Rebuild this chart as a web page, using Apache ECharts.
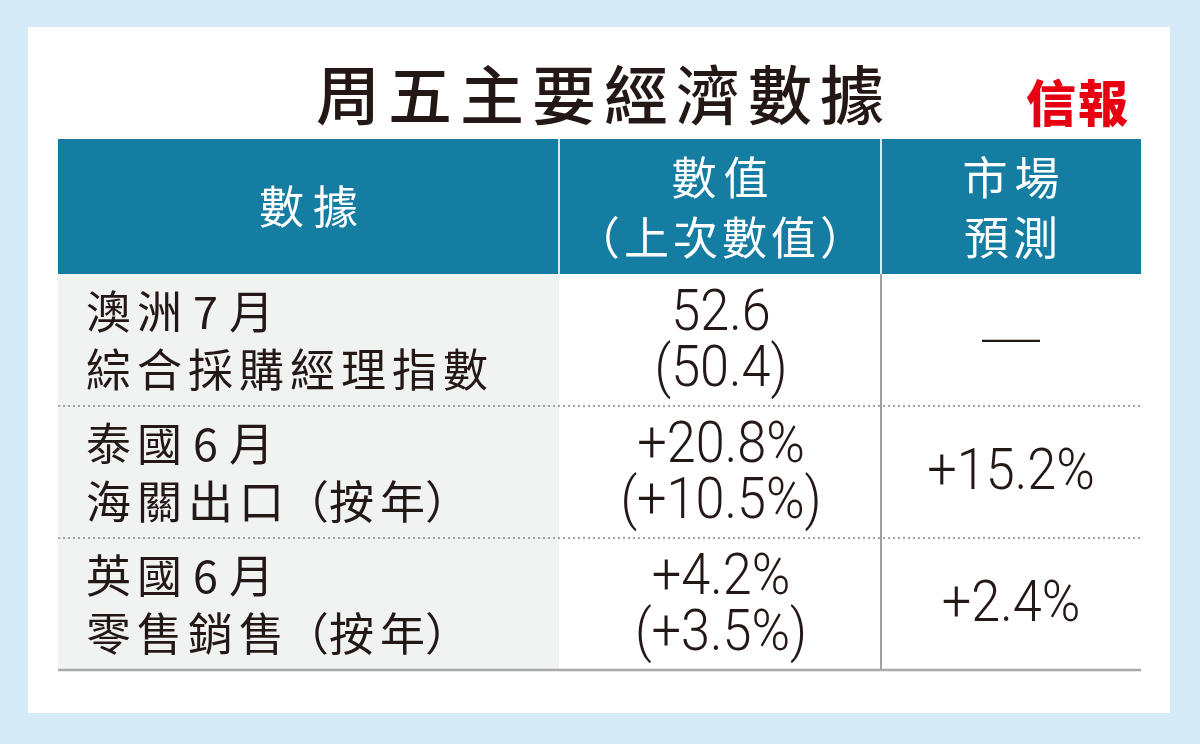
<!DOCTYPE html>
<html><head><meta charset="utf-8">
<script src="https://cdn.jsdelivr.net/npm/echarts@6/dist/echarts.min.js"></script>
<style>html,body{margin:0;padding:0;background:#d5ebf8}#c{width:1200px;height:744px}</style>
</head><body><div id="c"></div>
<script>
// ---- data ----
const title = '周五主要經濟數據';
const brand = '信報';
const headers = [['數據'], ['數值', '（上次數值）'], ['市場', '預測']];
const rowLabels = [['澳洲7月', '綜合採購經理指數'], ['泰國6月', '海關出口（按年）'], ['英國6月', '零售銷售（按年）']];
const latest = ['52.6', '+20.8%', '+4.2%'];
const previous = ['50.4', '+10.5%', '+3.5%'];
const forecast = ['—', '+15.2%', '+2.4%'];

// ---- layout ----
const CJK = '"Noto Sans CJK TC", "Noto Sans CJK SC", sans-serif';
const NUM = 'Roboto, "Noto Sans", "Noto Sans CJK TC", sans-serif';
const INK = '#231815';
const colX = [58, 559, 881, 1141];
const headTop = 139, headBot = 274;
const rowY = [274, 406, 538, 670];

const ctx = document.createElement('canvas').getContext('2d');
const isParen = c => c === '（' || c === '）';
const isHalf = c => c.charCodeAt(0) < 0x2000;
function tracked(str, x, y, o) {
  const font = `${o.weight || 400} ${o.size}px ${o.family}`;
  ctx.font = font;
  const chars = Array.from(str);
  const ws = chars.map(c => ctx.measureText(c).width);
  const t = o.track || 0;
  const gaps = chars.slice(1).map((c, i) => {
    const p = chars[i];
    if (o.smart) {
      if (isParen(c) || isParen(p)) return 0;
      if (isHalf(c) || isHalf(p)) return t + 5;
    }
    return t;
  });
  const total = ws.reduce((a, b) => a + b, 0) + gaps.reduce((a, b) => a + b, 0);
  let px = o.align === 'center' ? x - total / 2 : x;
  const out = [];
  chars.forEach((c, i) => {
    out.push({ type: 'text', x: px, y: y, silent: true,
      style: { text: c, font: font, fill: o.fill || INK, align: 'left', verticalAlign: 'middle' } });
    px += ws[i] + (i < gaps.length ? gaps[i] : 0);
  });
  return out;
}
function numText(str, x, y, size) {
  const dash = str === '—';
  return { type: 'text', x: x, y: dash ? y - 7 : y, scaleX: dash ? 1.4 : 0.9, silent: true,
    style: { text: str, font: dash ? `300 52px ${CJK}` : `300 ${size}px ${NUM}`, fill: INK, align: 'center', verticalAlign: 'middle' } };
}

const g = [];
// panel
g.push({ type: 'rect', shape: { x: 28, y: 27, width: 1142, height: 686 }, style: { fill: '#ffffff' } });
// title
g.push(...tracked(title, 600, 95, { size: 64, weight: 500, family: CJK, track: 8, align: 'center' }));
// brand
g.push(...tracked(brand, 1077, 103, { size: 50, weight: 900, family: CJK, track: 2, align: 'center', fill: '#e60012' }));
// header
g.push({ type: 'rect', shape: { x: colX[0], y: headTop, width: colX[3] - colX[0], height: headBot - headTop }, style: { fill: '#157ca2' } });
[colX[1], colX[2]].forEach(x => g.push({ type: 'line', shape: { x1: x, y1: headTop, x2: x, y2: headBot }, style: { stroke: '#d6e8f0', lineWidth: 2 } }));
headers.forEach((lines, c) => {
  const cx = (colX[c] + colX[c + 1]) / 2;
  if (lines.length === 1) {
    g.push(...tracked(lines[0], cx, 207, { size: 45, family: CJK, track: 9, align: 'center', fill: '#ffffff' }));
  } else {
    g.push(...tracked(lines[0], cx, 178, { size: 45, family: CJK, track: 7, align: 'center', fill: '#ffffff' }));
    g.push(...tracked(lines[1], cx, 238, { size: 45, family: CJK, track: 4, align: 'center', fill: '#ffffff' }));
  }
});
// body first column background
g.push({ type: 'rect', shape: { x: colX[0], y: headBot, width: colX[1] - colX[0], height: rowY[3] - headBot }, style: { fill: '#f1f3f3' } });
// dotted separators
[rowY[1], rowY[2]].forEach(y => g.push({ type: 'line', shape: { x1: colX[0], y1: y, x2: colX[3], y2: y }, style: { stroke: '#a3a3a3', lineWidth: 2, lineDash: [2, 3] } }));
// vertical line between col2/col3
g.push({ type: 'line', shape: { x1: colX[2], y1: headBot, x2: colX[2], y2: rowY[3] }, style: { stroke: '#a0a0a0', lineWidth: 2 } });
// bottom rule
g.push({ type: 'line', shape: { x1: colX[0], y1: rowY[3], x2: colX[3], y2: rowY[3] }, style: { stroke: '#a8a8a8', lineWidth: 2.5 } });

rowLabels.forEach((lines, r) => {
  const top = rowY[r];
  g.push(...tracked(lines[0], 86, top + 38, { size: 45, family: CJK, track: 6, smart: true }));
  g.push(...tracked(lines[1], 86, top + 96, { size: 45, family: CJK, track: 6, smart: true }));
  const c2 = (colX[1] + colX[2]) / 2 + 1;
  g.push(numText(latest[r], c2, top + 41, 58));
  g.push(numText('(' + previous[r] + ')', c2, top + 97, 58));
  const c3 = (colX[2] + colX[3]) / 2;
  g.push(numText(forecast[r], c3, top + 68, 58));
});

const chart = echarts.init(document.getElementById('c'));
chart.setOption({ backgroundColor: '#d5ebf8', animation: false, graphic: { elements: g } });
</script>
</body></html>
